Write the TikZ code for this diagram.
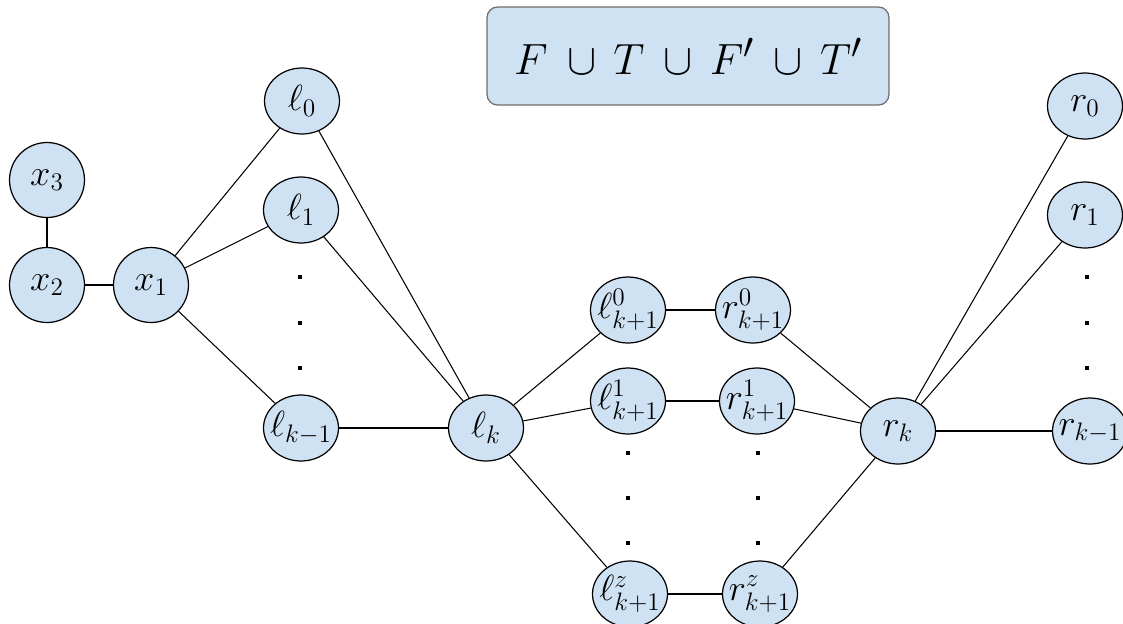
\documentclass[tikz,border=0pt]{standalone}
\usepackage{amsmath}
\usepackage{amssymb}
\usepackage{tikz}
\usetikzlibrary{shapes.geometric}
\definecolor{vfill}{RGB}{207,226,243}
\definecolor{boxline}{RGB}{110,110,110}

\begin{document}
\begin{tikzpicture}[x=0.02cm,y=-0.02cm,
	vtx/.style={ellipse,draw=black,fill=vfill,line width=0.7pt,inner sep=0pt,
		minimum width=1.5cm,minimum height=1.32cm},
	rnd/.style={vtx,minimum height=1.5cm},
	edge/.style={line width=0.6pt},
	every label/.style={font=\huge}]
	\useasboundingbox (0,0) rectangle (1123,623);
	% title box
	\node[draw=boxline,fill=vfill,line width=0.7pt,rounded corners=6pt,minimum width=8.04cm,minimum height=1.96cm,font=\Huge] (title) at (688,56) {$F\:\cup\,T\:\cup\,F'\:\cup\,T'$};
	% left part
	\node[rnd,label=center:$x_3$] (x3) at (47,180) {};
	\node[rnd,label=center:$x_2$] (x2) at (47,285) {};
	\node[rnd,label=center:$x_1$] (x1) at (151,285) {};
	\node[vtx,label=center:$\ell_0$] (l0) at (302,101) {};
	\node[vtx,label=center:$\ell_1$] (l1) at (301,210) {};
	\node[vtx,label=center:$\ell_{k-1}$] (lkm) at (301,428) {};
	\node[vtx,label=center:$\ell_k$] (lk) at (486,428) {};
	% middle part
	\node[vtx,label=center:$\ell^0_{k+1}$] (la) at (628,310) {};
	\node[vtx,label=center:$\ell^1_{k+1}$] (lb) at (628,401) {};
	\node[vtx,label=center:$\ell^z_{k+1}$] (lz) at (630,594) {};
	\node[vtx,label=center:$r^0_{k+1}$] (ra) at (753,310) {};
	\node[vtx,label=center:$r^1_{k+1}$] (rb) at (757,401) {};
	\node[vtx,label=center:$r^z_{k+1}$] (rz) at (760,594) {};
	% right part
	\node[vtx,label=center:$r_k$] (rk) at (898,431) {};
	\node[vtx,label=center:$r_0$] (r0) at (1085,106) {};
	\node[vtx,label=center:$r_1$] (r1) at (1085,215) {};
	\node[vtx,label=center:$r_{k-1}$] (rkm) at (1090,431) {};
	% edges
	\draw[edge] (x3)--(x2);
	\draw[edge] (x2)--(x1);
	\draw[edge] (x1)--(l0);
	\draw[edge] (x1)--(l1);
	\draw[edge] (x1)--(lkm);
	\draw[edge] (l0)--(lk);
	\draw[edge] (l1)--(lk);
	\draw[edge] (lkm)--(lk);
	\draw[edge] (lk)--(la);
	\draw[edge] (lk)--(lb);
	\draw[edge] (lk)--(lz);
	\draw[edge] (la)--(ra);
	\draw[edge] (lb)--(rb);
	\draw[edge] (lz)--(rz);
	\draw[edge] (ra)--(rk);
	\draw[edge] (rb)--(rk);
	\draw[edge] (rz)--(rk);
	\draw[edge] (rk)--(r0);
	\draw[edge] (rk)--(r1);
	\draw[edge] (rk)--(rkm);
	% dots
	\foreach \y in {277,323,368} {
		\fill (298,\y-2) rectangle (302,\y+2);
		\fill (1085,\y-2) rectangle (1089,\y+2);
	}
	\foreach \y in {453,498,543} {
		\fill (626,\y-2) rectangle (630,\y+2);
		\fill (756,\y-2) rectangle (760,\y+2);
	}
\end{tikzpicture}
\end{document}
